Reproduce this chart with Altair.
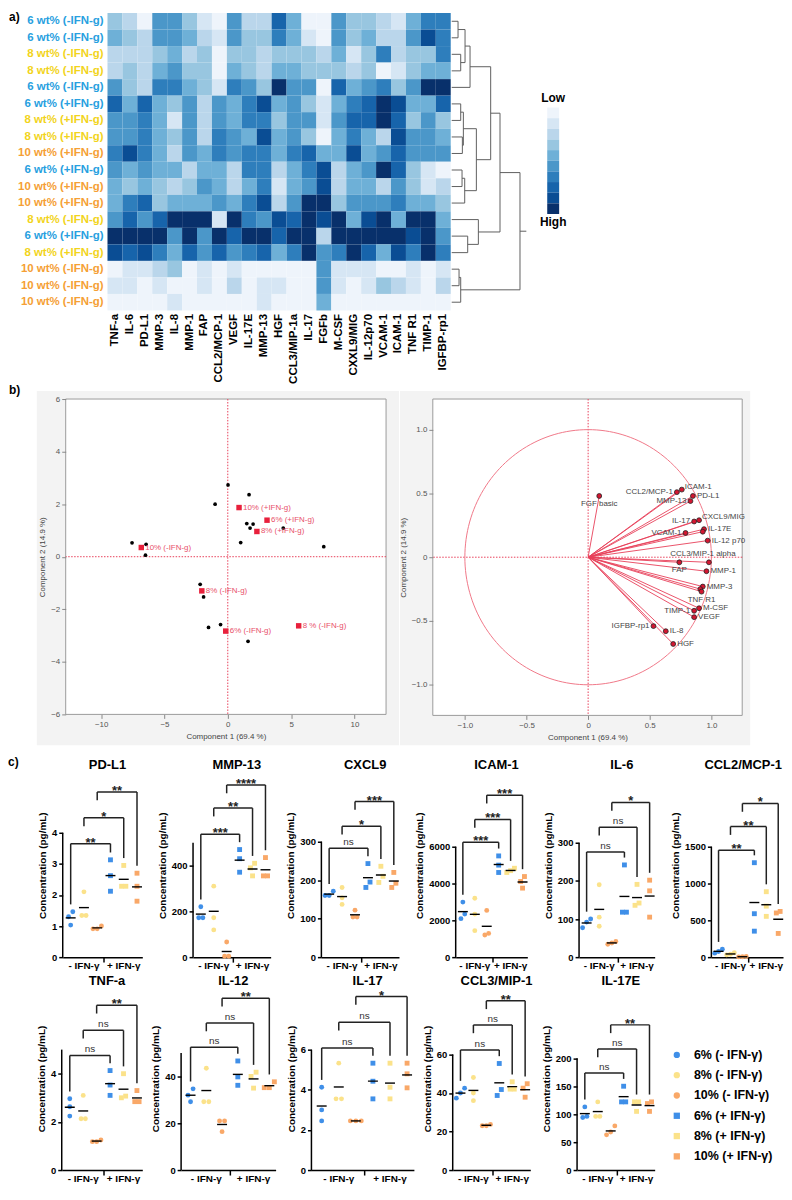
import altair as alt
import numpy as np
import pandas as pd

FONT = "Liberation Sans"

# ---------------- a) heatmap ----------------
heat_cols = ["TNF-a", "IL-6", "PD-L1", "MMP-3", "IL-8", "MMP-1", "FAP", "CCL2/MCP-1", "VEGF",
             "IL-17E", "MMP-13", "HGF", "CCL3/MIP-1a", "IL-17", "FGFb", "M-CSF", "CXXL9/MIG",
             "IL-12p70", "VCAM-1", "ICAM-1", "TNF R1", "TIMP-1", "IGFBP-rp1"]
heat_rows = ["6 wt% (-IFN-g)", "6 wt% (-IFN-g)", "8 wt% (-IFN-g)", "8 wt% (-IFN-g)", "6 wt% (-IFN-g)",
             "6 wt% (+IFN-g)", "8 wt% (+IFN-g)", "8 wt% (+IFN-g)", "10 wt% (+IFN-g)", "6 wt% (+IFN-g)",
             "10 wt% (+IFN-g)", "10 wt% (+IFN-g)", "8 wt% (-IFN-g)", "6 wt% (+IFN-g)", "8 wt% (+IFN-g)",
             "10 wt% (-IFN-g)", "10 wt% (-IFN-g)", "10 wt% (-IFN-g)"]
heat_conc = ["6", "6", "8", "8", "6", "6", "8", "8", "10", "6", "10", "10", "8", "6", "8", "10", "10", "10"]
heat_levels = [
    [3, 2, 0, 5, 5, 3, 1, 0, 5, 2, 2, 7, 4, 0, 0, 5, 3, 3, 2, 1, 4, 6, 6],
    [4, 3, 2, 5, 5, 4, 2, 1, 5, 3, 3, 6, 4, 1, 0, 5, 3, 4, 2, 2, 5, 8, 6],
    [2, 2, 2, 3, 4, 2, 3, 0, 3, 3, 2, 3, 3, 3, 2, 4, 1, 3, 6, 2, 3, 3, 6],
    [2, 3, 2, 4, 5, 3, 3, 0, 4, 3, 2, 4, 4, 3, 3, 3, 2, 3, 0, 1, 3, 4, 4],
    [5, 3, 2, 6, 6, 4, 3, 1, 6, 5, 3, 9, 5, 5, 0, 7, 4, 5, 6, 3, 5, 9, 9],
    [7, 4, 7, 4, 3, 5, 2, 5, 4, 6, 8, 4, 5, 3, 1, 4, 6, 7, 9, 8, 4, 4, 7],
    [5, 5, 6, 4, 1, 5, 2, 5, 4, 6, 6, 3, 5, 5, 1, 5, 7, 7, 9, 7, 3, 5, 3],
    [5, 5, 6, 4, 3, 5, 2, 6, 5, 4, 8, 4, 5, 3, 0, 4, 6, 4, 2, 8, 5, 5, 4],
    [6, 8, 6, 4, 2, 5, 4, 6, 5, 6, 6, 4, 6, 7, 4, 4, 8, 4, 5, 7, 5, 5, 5],
    [5, 4, 5, 4, 4, 2, 4, 4, 2, 6, 6, 2, 4, 6, 8, 2, 4, 5, 9, 7, 3, 1, 0],
    [4, 3, 4, 3, 2, 3, 5, 4, 2, 4, 6, 1, 4, 5, 8, 2, 4, 4, 2, 5, 3, 1, 2],
    [4, 6, 7, 3, 4, 4, 4, 5, 4, 6, 8, 2, 5, 9, 9, 3, 5, 5, 5, 6, 4, 4, 3],
    [5, 7, 5, 7, 9, 9, 9, 1, 9, 6, 5, 8, 7, 9, 8, 9, 4, 8, 9, 4, 9, 9, 4],
    [9, 9, 9, 9, 5, 9, 5, 9, 7, 9, 9, 7, 9, 9, 2, 9, 9, 9, 9, 9, 8, 9, 5],
    [8, 7, 8, 6, 4, 7, 5, 7, 5, 6, 7, 4, 6, 9, 5, 6, 9, 7, 4, 8, 6, 9, 6],
    [0, 1, 1, 2, 3, 0, 1, 0, 1, 0, 0, 0, 0, 0, 5, 1, 1, 1, 0, 0, 1, 0, 1],
    [1, 1, 0, 1, 0, 0, 1, 0, 2, 0, 1, 1, 0, 0, 5, 1, 0, 1, 3, 2, 1, 0, 2],
    [0, 0, 0, 0, 1, 0, 0, 0, 0, 0, 1, 0, 0, 0, 4, 0, 0, 0, 0, 0, 0, 0, 0],
]
blues10 = ["#eef4fb", "#d6e6f4", "#bad6eb", "#98c6e0", "#6eb0d7", "#4b97c9", "#2e7ebc",
           "#1764ab", "#0a4d94", "#08306b"]
conc_colors = ["#27a0e0", "#f2d41c", "#f5a035"]

# dendrogram linkage: (child a, child b, merge height); leaves 0-17, clusters 18+
dendro_links = [(0, 1, 19), (2, 3, 27), (18, 19, 40), (20, 4, 55), (5, 6, 27), (7, 8, 32),
                (22, 23, 35), (9, 10, 31), (25, 11, 39), (24, 26, 74), (21, 27, 117),
                (13, 14, 48), (12, 29, 80), (28, 30, 145), (15, 16, 22), (32, 17, 27),
                (31, 33, 205)]
dendro_tail = 224

# ---------------- b) PCA ----------------
score_x = [-7.56, -6.45, -6.5, -1.0, 0.02, 1.68, 1.5, 1.76, 2.0, 1.02, 4.38, 7.58, -2.18, -1.91, -1.52, -0.57, 1.6]
score_y = [0.53, 0.47, 0.06, 2.0, 2.73, 2.36, 1.26, 1.09, 1.24, 0.54, 1.09, 0.38, -1.05, -1.53, -2.69, -2.58, -3.22]
cent_labels = ["10% (+IFN-g)", "6% (+IFN-g)", "8% (+IFN-g)", "10% (-IFN-g)", "8% (-IFN-g)", "6% (-IFN-g)", "8 % (-IFN-g)"]
cent_x = [0.89, 3.1, 2.3, -6.83, -2.05, -0.16, 5.6]
cent_y = [1.87, 1.39, 0.96, 0.35, -1.3, -2.83, -2.63]

load_labels = ["FGF basic", "ICAM-1", "CCL2/MCP-1", "PD-L1", "MMP-13", "IL-17", "CXCL9/MIG", "IL-17E",
               "", "VCAM-1", "IL-12 p70", "CCL3/MIP-1 alpha", "FAP", "MMP-1", "MMP-3", "",
               "TNF R1", "M-CSF", "TIMP-1", "VEGF", "IGFBP-rp1", "IL-8", "HGF"]
load_x = [0.09, 0.76, 0.72, 0.85, 0.83, 0.86, 0.90, 0.94, 0.93, 0.79, 0.97, 0.98, 0.74, 0.96, 0.93, 0.91,
          0.92, 0.90, 0.86, 0.86, 0.53, 0.63, 0.69]
load_y = [0.48, 0.53, 0.51, 0.48, 0.44, 0.28, 0.29, 0.22, 0.20, 0.19, 0.13, -0.04, -0.04, -0.11, -0.23, -0.25,
          -0.27, -0.40, -0.42, -0.47, -0.54, -0.58, -0.68]
load_side = ["B", "RU", "L", "R", "L", "L", "RU", "R", "R", "L", "R", "T", "B", "R", "R", "R",
             "B", "R", "L", "R", "L", "R", "R"]

# ---------------- c) cytokines ----------------
GROUPS = ["6% (- IFN-γ)", "8% (- IFN-γ)", "10% (- IFN-γ)", "6% (+ IFN-γ)", "8% (+ IFN-γ)", "10% (+ IFN-γ)"]
GCOLORS = ["#3f8fe8", "#fbe28a", "#f9a868", "#3f8fe8", "#fbe28a", "#f9a868"]
GSHAPES = ["circle", "circle", "circle", "square", "square", "square"]

cyto_names_1 = ["PD-L1", "MMP-13", "CXCL9", "ICAM-1", "IL-6", "CCL2/MCP-1"]
cyto_names_2 = ["TNF-a", "IL-12", "IL-17", "CCL3/MIP-1", "IL-17E"]
cyto_values = {
    "PD-L1": [[1.46, 1.30, 1.03], [2.10, 1.34, 1.34], [1.00, 0.91, 0.91],
              [3.13, 2.62, 2.12], [2.95, 2.28, 2.28], [2.70, 2.28, 1.80]],
    "MMP-13": [[220, 172, 172], [310, 172, 119], [66, 4, 4],
               [470, 430, 371], [410, 390, 355], [435, 355, 355]],
    "CXCL9": [[171, 160, 160], [181, 154, 137], [122, 104, 104],
              [243, 195, 181], [236, 210, 194], [220, 192, 181]],
    "ICAM-1": [[2990, 2340, 2090], [3200, 2340, 1440], [2540, 1290, 1200],
               [5500, 5000, 4600], [4830, 4700, 4600], [4380, 4110, 3750]],
    "IL-6": [[100, 92, 77], [190, 105, 81], [41, 37, 34],
             [242, 118, 118], [191, 142, 136], [202, 174, 105]],
    "CCL2/MCP-1": [[107, 76, 54], [60, 40, 30], [8, 5, 3],
                   [1283, 590, 353], [889, 693, 554], [621, 600, 322]],
    "TNF-a": [[2.96, 2.63, 2.24], [3.10, 2.13, 2.13], [1.25, 1.18, 1.18],
              [4.13, 3.53, 3.10], [4.00, 3.00, 3.07], [3.30, 2.84, 2.84]],
    "IL-12": [[34.7, 32.0, 29.2], [43.5, 29.2, 29.2], [21.0, 21.0, 16.4],
              [46.6, 39.8, 36.2], [41.8, 40.0, 35.0], [37.7, 35.2, 35.2]],
    "IL-17": [[4.13, 3.0, 2.45], [5.33, 3.55, 3.55], [2.45, 2.45, 2.45],
              [5.33, 4.43, 3.55], [5.33, 4.13, 3.55], [5.33, 4.8, 4.1]],
    "CCL3/MIP-1": [[42.5, 40.0, 37.3], [48.0, 40.0, 36.0], [23.7, 23.0, 23.0],
                   [55.3, 41.8, 38.7], [45.8, 42.0, 42.0], [44.8, 42.5, 37.8]],
    "IL-17E": [[113, 96, 94], [122, 96, 96], [79, 68, 63],
               [150, 122, 122], [122, 122, 105], [122, 119, 105]],
}
cyto_yticks = {
    "PD-L1": [0, 1, 2, 3, 4], "MMP-13": [0, 100, 200, 300, 400, 500], "CXCL9": [0, 100, 200, 300],
    "ICAM-1": [0, 2000, 4000, 6000], "IL-6": [0, 100, 200, 300], "CCL2/MCP-1": [0, 500, 1000, 1500],
    "TNF-a": [0, 1, 2, 3, 4, 5], "IL-12": [0, 10, 20, 30, 40, 50], "IL-17": [0, 2, 4, 6],
    "CCL3/MIP-1": [0, 20, 40, 60], "IL-17E": [0, 50, 100, 150, 200],
}
cyto_domain_max = {
    "PD-L1": 5.92, "MMP-13": 804, "CXCL9": 478, "ICAM-1": 10000, "IL-6": 483, "CCL2/MCP-1": 2500,
    "TNF-a": 7.6, "IL-12": 78.2, "IL-17": 9.13, "CCL3/MIP-1": 95, "IL-17E": 327.6,
}
cyto_bracket_levels = {
    "PD-L1": [3.65, 4.48, 5.31], "MMP-13": [537, 651, 752], "CXCL9": [283, 340, 404],
    "ICAM-1": [6240, 7480, 8800], "IL-6": [276, 341, 406], "CCL2/MCP-1": [1452, 1773, 2087],
    "TNF-a": [4.76, 5.80, 6.84], "IL-12": [52.5, 62.8, 73.4], "IL-17": [6.09, 7.37, 8.65],
    "CCL3/MIP-1": [62.3, 75.3, 87.8], "IL-17E": [173.6, 216.7, 259.8],
}
cyto_signif = {
    "PD-L1": ["**", "*", "**"], "MMP-13": ["***", "**", "****"], "CXCL9": ["ns", "*", "***"],
    "ICAM-1": ["***", "***", "***"], "IL-6": ["ns", "ns", "*"], "CCL2/MCP-1": ["**", "**", "*"],
    "TNF-a": ["ns", "ns", "**"], "IL-12": ["ns", "ns", "**"], "IL-17": ["ns", "ns", "*"],
    "CCL3/MIP-1": ["ns", "ns", "**"], "IL-17E": ["ns", "ns", "**"],
}
cyto_width = {"PD-L1": 80, "MMP-13": 78, "CXCL9": 78, "ICAM-1": 72, "IL-6": 76, "CCL2/MCP-1": 72,
              "TNF-a": 81, "IL-12": 95, "IL-17": 103, "CCL3/MIP-1": 78, "IL-17E": 78}
cyto_title_dx = {"CCL2/MCP-1": -4}
x_group_labels = ["- IFN-γ", "+ IFN-γ"]
bracket_pairs = [(1, 4), (2, 5), (3, 6)]

one = pd.DataFrame({"k": [0]})


def spacer(width=1, label=None, label_y=0):
    layers = [alt.Chart(one).mark_point(size=0, opacity=0).encode(x=alt.value(0), y=alt.value(0))]
    if label:
        layers.append(alt.Chart(one).mark_text(text=label, align="left", baseline="top",
                                               fontWeight="bold", fontSize=12).encode(
            x=alt.value(0), y=alt.value(label_y)))
    return alt.layer(*layers).properties(width=width, height=1)


# ================= a) heatmap chart =================
HW, HH = 345, 299
heat_df = pd.DataFrame([
    {"row": r, "col": c, "level": heat_levels[r][ci]}
    for r in range(len(heat_rows)) for ci, c in enumerate(heat_cols)
])
rowlab_df = pd.DataFrame({"row": list(range(len(heat_rows))), "label": heat_rows, "conc": heat_conc})
quant = alt.Scale(type="quantize", domain=[0, 9], range=blues10)

heat_rect = alt.Chart(heat_df).mark_rect().encode(
    x=alt.X("col:N", sort=heat_cols, title=None,
            axis=alt.Axis(labelAngle=-90, ticks=False, domain=False, labelFontWeight="bold",
                          labelFontSize=11.5, labelColor="black", labelPadding=3, labelLimit=200)),
    y=alt.Y("row:O", axis=None),
    color=alt.Color("level:Q", scale=quant, legend=None),
)
heat_text = alt.Chart(rowlab_df).mark_text(align="right", baseline="middle", fontWeight="bold",
                                           fontSize=11.5, dx=-4).encode(
    y=alt.Y("row:O", axis=None),
    x=alt.value(0),
    text="label:N",
    fill=alt.Fill("conc:N", scale=alt.Scale(domain=["6", "8", "10"], range=conc_colors), legend=None),
)
a_label = alt.Chart(one).mark_text(text="a)", align="left", baseline="top", fontWeight="bold",
                                   fontSize=12).encode(x=alt.value(-99), y=alt.value(-1))
heat = alt.layer(heat_rect, heat_text, a_label).properties(width=HW, height=HH)

# dendrogram segments from linkage
pos = {i: (i + 0.5, 0.0) for i in range(len(heat_rows))}
segs = []
for k, (a, b, h) in enumerate(dendro_links):
    ya, ha = pos[a]
    yb, hb = pos[b]
    segs.append((ha, h, ya, ya))
    segs.append((hb, h, yb, yb))
    segs.append((h, h, ya, yb))
    pos[len(heat_rows) + k] = ((ya + yb) / 2, h)
yr, hr = pos[len(heat_rows) + len(dendro_links) - 1]
segs.append((hr, dendro_tail, yr, yr))
seg_df = pd.DataFrame(segs, columns=["x1", "x2", "y1", "y2"])

dendro_lines = alt.Chart(seg_df).mark_rule(color="#5f5f5f", strokeWidth=1).encode(
    x=alt.X("x1:Q", scale=alt.Scale(domain=[0, dendro_tail], nice=False, zero=False), axis=None),
    x2="x2:Q",
    y=alt.Y("y1:Q", scale=alt.Scale(domain=[0, 18], reverse=True, nice=False, zero=False), axis=None),
    y2="y2:Q",
)
# colour key (Low -> High) drawn from the ten colour levels
key_df = pd.DataFrame({"lo": list(range(len(blues10))), "hi": list(range(1, len(blues10) + 1))})
key_bar = alt.Chart(key_df).mark_rect().encode(
    x=alt.value(96), x2=alt.value(108),
    y=alt.Y("lo:Q", scale=alt.Scale(domain=[0, len(blues10)], range=[95, 202], nice=False, zero=False),
            axis=None),
    y2="hi:Q",
    color=alt.Color("lo:Q", scale=quant, legend=None),
)
low_text = alt.Chart(one).mark_text(text="Low", align="center", baseline="bottom", fontWeight="bold",
                                    fontSize=12).encode(x=alt.value(102), y=alt.value(92))
high_text = alt.Chart(one).mark_text(text="High", align="center", baseline="top", fontWeight="bold",
                                     fontSize=12).encode(x=alt.value(102), y=alt.value(205))
dendro = alt.layer(dendro_lines, key_bar, low_text, high_text).resolve_scale(
    y="independent").properties(width=75, height=HH)

rowA = alt.hconcat(spacer(), heat, dendro, spacing=0).resolve_scale(color="independent")

# ================= b) PCA charts =================
PCA_RED = "#e8405a"
ax_common = dict(labelColor="#555", labelFontSize=8, tickColor="#888", domain=False, grid=False,
                 titleFontSize=8, titleFontWeight="normal", titleColor="#444", zindex=1, tickSize=4)

LW, LH = 322, 317
sc_df = pd.DataFrame({"x": score_x, "y": score_y})
ce_df = pd.DataFrame({"x": cent_x, "y": cent_y, "label": cent_labels})
xsL = alt.Scale(domain=[-12.8, 12.5], nice=False, zero=False)
ysL = alt.Scale(domain=[-6, 6], nice=False, zero=False)

bgL = alt.Chart(one).mark_rect(color="#f3f3f3").encode(
    x=alt.value(-29), x2=alt.value(LW + 13), y=alt.value(-8), y2=alt.value(LH + 31))
frameL = alt.Chart(one).mark_rect(fill="white", stroke="#9a9a9a", strokeWidth=1).encode(
    x=alt.value(0), x2=alt.value(LW), y=alt.value(0), y2=alt.value(LH))
vzeroL = alt.Chart(one).mark_rule(color=PCA_RED, strokeDash=[1.5, 1.5], strokeWidth=1).encode(
    x=alt.datum(0, scale=xsL))
hzeroL = alt.Chart(one).mark_rule(color=PCA_RED, strokeDash=[1.5, 1.5], strokeWidth=1).encode(
    y=alt.datum(0, scale=ysL))
ptsL = alt.Chart(sc_df).mark_circle(color="black", size=14, opacity=1).encode(
    x=alt.X("x:Q", scale=xsL, title="Component 1  (69.4 %)",
            axis=alt.Axis(values=[-10, -5, 0, 5, 10], **ax_common)),
    y=alt.Y("y:Q", scale=ysL, title="Component 2  (14.9 %)",
            axis=alt.Axis(values=[-6, -4, -2, 0, 2, 4, 6], **ax_common)),
)
ceL = alt.Chart(ce_df).mark_square(color="#e8203c", size=30, opacity=1).encode(x="x:Q", y="y:Q")
ceT = alt.Chart(ce_df).mark_text(align="left", baseline="middle", dx=4, fontSize=8,
                                 color="#e8506a").encode(x="x:Q", y="y:Q", text="label:N")
b_label = alt.Chart(one).mark_text(text="b)", align="left", baseline="top", fontWeight="bold",
                                   fontSize=12).encode(x=alt.value(-57), y=alt.value(-14))
pcaL = alt.layer(bgL, frameL, vzeroL, hzeroL, ptsL, ceL, ceT, b_label).properties(width=LW, height=LH)

RW, RH = 311, 318
xsR = alt.Scale(domain=[-1.26, 1.25], nice=False, zero=False)
ysR = alt.Scale(domain=[-1.24, 1.24], nice=False, zero=False)
theta = np.linspace(0, 2 * np.pi, 181)
circ_df = pd.DataFrame({"i": np.arange(181), "cx": np.cos(theta), "cy": np.sin(theta)})
ld_df = pd.DataFrame({"x": load_x, "y": load_y, "label": load_labels, "side": load_side, "o": 0.0})
fmt = "datum.value == 0 ? '0' : format(datum.value, '.1f')"

bgR = alt.Chart(one).mark_rect(color="#f3f3f3").encode(
    x=alt.value(-33), x2=alt.value(RW + 8), y=alt.value(-8), y2=alt.value(RH + 30))
frameR = alt.Chart(one).mark_rect(fill="white", stroke="#9a9a9a", strokeWidth=1).encode(
    x=alt.value(0), x2=alt.value(RW), y=alt.value(0), y2=alt.value(RH))
vzeroR = alt.Chart(one).mark_rule(color=PCA_RED, strokeDash=[1.5, 1.5], strokeWidth=1).encode(
    x=alt.datum(0, scale=xsR))
hzeroR = alt.Chart(one).mark_rule(color=PCA_RED, strokeDash=[1.5, 1.5], strokeWidth=1).encode(
    y=alt.datum(0, scale=ysR))
circ = alt.Chart(circ_df).mark_line(color="#f07888", strokeWidth=1).encode(
    x=alt.X("cx:Q", scale=xsR, title="Component 1  (69.4 %)",
            axis=alt.Axis(values=[-1, -0.5, 0, 0.5, 1], labelExpr=fmt, **ax_common)),
    y=alt.Y("cy:Q", scale=ysR, title="Component 2  (14.9 %)",
            axis=alt.Axis(values=[-1, -0.5, 0, 0.5, 1], labelExpr=fmt, **ax_common)),
    order="i:Q",
)
vec = alt.Chart(ld_df).mark_rule(color=PCA_RED, strokeWidth=0.9).encode(
    x=alt.X("o:Q", title="Component 1  (69.4 %)"), y=alt.Y("o:Q", title="Component 2  (14.9 %)"),
    x2="x:Q", y2="y:Q")
ldp = alt.Chart(ld_df).mark_point(filled=True, fill="#d31631", stroke="#222", strokeWidth=0.8,
                                  size=24, opacity=1).encode(
    x=alt.X("x:Q", title="Component 1  (69.4 %)"), y=alt.Y("y:Q", title="Component 2  (14.9 %)"))


def load_text(side, **kw):
    return alt.Chart(ld_df).transform_filter(alt.datum.side == side).mark_text(
        fontSize=8, color="#444", **kw).encode(
        x=alt.X("x:Q", title="Component 1  (69.4 %)"), y=alt.Y("y:Q", title="Component 2  (14.9 %)"),
        text="label:N")


ldR = load_text("R", align="left", baseline="middle", dx=4)
ldRU = load_text("RU", align="left", baseline="bottom", dx=3, dy=1)
ldL = load_text("L", align="right", baseline="middle", dx=-4)
ldB = load_text("B", align="center", baseline="top", dy=4)
ldT = load_text("T", align="center", baseline="bottom", dx=-6, dy=-4)
pcaR = alt.layer(bgR, frameR, vzeroR, hzeroR, circ, vec, ldp, ldR, ldRU, ldL, ldB, ldT).properties(
    width=RW, height=RH)

rowB = alt.hconcat(spacer(), pcaL, pcaR, spacing=0)

# ================= c) cytokine panels =================
YT = "Concentration (pg/mL)"


def tie_offsets(vals, tol):
    idx = sorted(range(len(vals)), key=lambda i: vals[i])
    clusters, cur = [], [idx[0]]
    for i in idx[1:]:
        if vals[i] - vals[cur[-1]] < tol:
            cur.append(i)
        else:
            clusters.append(cur)
            cur = [i]
    clusters.append(cur)
    off = [0.0] * len(vals)
    for c in clusters:
        n = len(c)
        for j, i in enumerate(c):
            off[i] = (j - (n - 1) / 2) * 0.32
    return off


def cyto_plot(name, H, title_y, lead_extent=None, legend=False):
    vals = cyto_values[name]
    dmax = cyto_domain_max[name]
    yt = cyto_yticks[name]
    lev = cyto_bracket_levels[name]
    sig = cyto_signif[name]
    W = cyto_width[name]
    rows = []
    for gi, gv in enumerate(vals):
        for v, o in zip(gv, tie_offsets(gv, dmax * 0.035)):
            rows.append({"g": gi + 1, "grp": GROUPS[gi], "v": v, "xp": gi + 1 + o})
    df = pd.DataFrame(rows)
    xsc = alt.Scale(domain=[0.4, 6.4], nice=False, zero=False)
    ysc = alt.Scale(domain=[0, dmax], nice=False, zero=False)
    if legend:
        leg = alt.Legend(orient="none", legendX=94, legendY=62, title=None, labelFontSize=12.5,
                         labelFontWeight="bold", labelColor="black", symbolSize=40,
                         symbolStrokeWidth=0, rowPadding=7.4, labelOffset=11)
    else:
        leg = None
    pts = alt.Chart(df).mark_point(filled=True, size=24, opacity=1).encode(
        x=alt.X("xp:Q", scale=xsc, title=None,
                axis=alt.Axis(values=[3.5], labels=False, tickSize=5, tickWidth=1.5, tickColor="black",
                              domainColor="black", domainWidth=1.5, grid=False)),
        y=alt.Y("v:Q", scale=ysc, title=YT,
                axis=alt.Axis(values=yt, format="d", domain=False, tickSize=4, tickWidth=1.5,
                              tickColor="black", grid=False, labelFontWeight="bold", labelFontSize=9.5,
                              labelColor="black", labelPadding=2, titleFontSize=10,
                              titleFontWeight="bold", titleColor="black", titlePadding=4)),
        color=alt.Color("grp:N", scale=alt.Scale(domain=GROUPS, range=GCOLORS), legend=leg),
        shape=alt.Shape("grp:N", scale=alt.Scale(domain=GROUPS, range=GSHAPES), legend=leg),
    )
    means = alt.Chart(df).mark_tick(orient="horizontal", color="black", size=10, thickness=1.4).encode(
        x=alt.X("g:Q", title=None), y=alt.Y("mean(v):Q", title=YT))
    segs = []
    labs = []
    for i, ((g1, g2), L, s) in enumerate(zip(bracket_pairs, lev, sig)):
        pad = dmax * 0.04
        lb = max(vals[g1 - 1]) + pad if i == 0 else L - dmax * 0.045
        rb = max(vals[g2 - 1]) + pad
        segs += [(g1, g1, lb, L), (g1, g2, L, L), (g2, g2, rb, L)]
        labs.append({"xm": (g1 + g2) / 2, "lev": L, "lab": s, "ns": s == "ns"})
    br_df = pd.DataFrame(segs, columns=["x", "x2", "y", "y2"])
    lab_df = pd.DataFrame(labs)
    br = alt.Chart(br_df).mark_rule(color="#222", strokeWidth=1.5).encode(
        x=alt.X("x:Q", title=None), x2="x2:Q", y=alt.Y("y:Q", title=YT), y2="y2:Q")
    star = alt.Chart(lab_df).transform_filter("!datum.ns").mark_text(
        baseline="alphabetic", dy=3, fontSize=13, fontWeight="bold", color="#222").encode(
        x=alt.X("xm:Q", title=None), y=alt.Y("lev:Q", title=YT), text="lab:N")
    ns = alt.Chart(lab_df).transform_filter("datum.ns").mark_text(
        baseline="alphabetic", dy=-3, fontSize=10, color="#333").encode(
        x=alt.X("xm:Q", title=None), y=alt.Y("lev:Q", title=YT), text="lab:N")
    yline = alt.Chart(pd.DataFrame({"y0": [yt[0]], "y1": [yt[-1]]})).mark_rule(
        color="black", strokeWidth=1.5).encode(x=alt.datum(0.4), y=alt.Y("y0:Q", title=YT), y2="y1:Q")
    xl = alt.Chart(pd.DataFrame({"x": [2, 5], "t": x_group_labels})).mark_text(
        baseline="top", fontWeight="bold", fontSize=10, color="black").encode(
        x=alt.X("x:Q", title=None), y=alt.value(H + 4), text="t:N")
    title = alt.Chart(pd.DataFrame({"t": [name]})).mark_text(
        align="center", baseline="middle", fontSize=13, fontWeight="bold", color="black",
        dx=cyto_title_dx.get(name, 5)).encode(
        x=alt.value(W / 2), y=alt.value(title_y), text="t:N")
    layers = [yline, br, star, ns, pts, means, xl, title]
    if lead_extent is not None:
        layers.append(alt.Chart(one).mark_point(size=1, opacity=0).encode(
            x=alt.value(-lead_extent), y=alt.value(H)))
    return alt.layer(*layers).properties(width=W, height=H)


H1, H2 = 185, 184
row1 = [cyto_plot(n, H1, -8, lead_extent=34 if i == 0 else None) for i, n in enumerate(cyto_names_1)]
row2 = [cyto_plot(n, H2, -6, lead_extent=33 if i == 0 else None, legend=(n == "IL-17E"))
        for i, n in enumerate(cyto_names_2)]
rowC1 = alt.hconcat(
    spacer(width=20, label="c)", label_y=-16),
    alt.hconcat(*row1, spacing=15).resolve_scale(color="independent", shape="independent"),
    spacing=0).resolve_scale(color="independent", shape="independent")
rowC2 = alt.hconcat(
    spacer(width=20),
    alt.hconcat(*row2, spacing=8).resolve_scale(color="independent", shape="independent"),
    spacing=0).resolve_scale(color="independent", shape="independent")

top = alt.vconcat(rowA, rowB, spacing=0).resolve_scale(color="independent", shape="independent")
bottom = alt.vconcat(rowC1, rowC2, spacing=4).resolve_scale(color="independent", shape="independent")
chart = alt.vconcat(top, bottom, spacing=11).resolve_scale(
    color="independent", shape="independent").properties(
    padding={"left": 0, "top": 0, "right": 0, "bottom": 0}
).configure(font=FONT).configure_view(strokeWidth=0)

chart.save("out.html", embed_options={"renderer": "svg", "actions": False})
